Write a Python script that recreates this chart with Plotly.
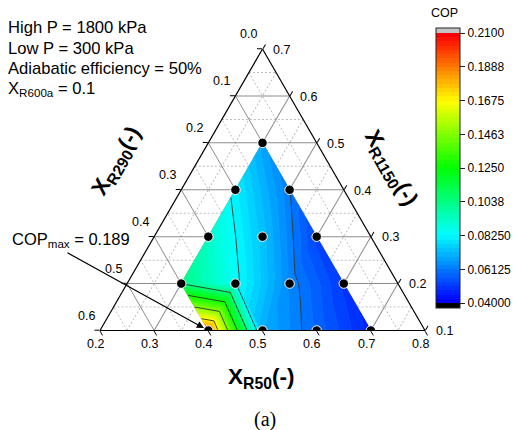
import numpy as np
import plotly.graph_objects as go

# ---------------- data ----------------
X_R50   = [0.3, 0.3, 0.4, 0.3, 0.4, 0.5, 0.3, 0.4, 0.5, 0.6, 0.4, 0.5, 0.6, 0.7]
X_R1150 = [0.5, 0.4, 0.4, 0.3, 0.3, 0.3, 0.2, 0.2, 0.2, 0.2, 0.1, 0.1, 0.1, 0.1]
X_R290  = [0.1, 0.2, 0.1, 0.3, 0.2, 0.1, 0.4, 0.3, 0.2, 0.1, 0.4, 0.3, 0.2, 0.1]
COP     = [0.068, 0.0806, 0.0615, 0.092, 0.0732, 0.0521, 0.1035,
           0.0840, 0.0635, 0.0500, 0.189, 0.0700, 0.0579, 0.0467]
X_R600a = 0.1

info_lines = ["High P = 1800 kPa", "Low P = 300 kPa",
              "Adiabatic efficiency = 50%", "X<sub>R600a</sub> = 0.1"]

# ternary tick labels as printed on each edge
left_edge_labels   = ["0.6", "0.5", "0.4", "0.3", "0.2", "0.1", "0.0"]   # X_R290
bottom_edge_labels = ["0.8", "0.7", "0.6", "0.5", "0.4", "0.3", "0.2"]   # X_R50
right_edge_labels  = ["0.7", "0.6", "0.5", "0.4", "0.3", "0.2", "0.1"]   # X_R1150

cbar_ticks  = [0.04, 0.06125, 0.0825, 0.10375, 0.125, 0.14625, 0.1675, 0.18875, 0.21]
cbar_labels = ["0.04000", "0.06125", "0.08250", "0.1038", "0.1250",
               "0.1463", "0.1675", "0.1888", "0.2100"]
SUB_PER_MAJOR = 8

# ---------------- geometry / style constants ----------------
W, H = 522, 430
TRI_LEFT, TRI_BOTTOM, TRI_W = 100.0, 330.5, 325.0
TRI_H = TRI_W * np.sqrt(3) / 2
FONT = "Liberation Sans"

SUM = round(1 - X_R600a, 10)
AMIN, BMIN, CMIN = 0.1, 0.0, 0.2          # a = R1150, b = R290, c = R50
SPAN = SUM - AMIN - BMIN - CMIN

cx = (TRI_LEFT + TRI_W / 2) / W
cy = 1 - (TRI_BOTTOM - TRI_H / 2) / H
hw = TRI_W / 2 / W
hh = TRI_H / 2 / H
DOMAIN = dict(x=[cx - hw, cx + hw], y=[cy - hh, cy + hh])


def to_px(a, b, c):
    fa = (a - AMIN) / SPAN
    fc = (c - CMIN) / SPAN
    return TRI_LEFT + TRI_W * (fc + 0.5 * fa), TRI_BOTTOM - TRI_H * fa


def rainbow(t):
    stops = [(0, (0, 0, 255)), (0.25, (0, 255, 255)), (0.5, (0, 255, 0)),
             (0.75, (255, 255, 0)), (1.0, (255, 0, 0))]
    for (t0, c0), (t1, c1) in zip(stops[:-1], stops[1:]):
        if t <= t1 + 1e-12:
            f = (t - t0) / (t1 - t0)
            r, g, b = [round(c0[i] + f * (c1[i] - c0[i])) for i in range(3)]
            return f"rgb({r},{g},{b})"
    return "rgb(255,0,0)"


levels = np.linspace(cbar_ticks[0], cbar_ticks[-1], (len(cbar_ticks) - 1) * SUB_PER_MAJOR + 1)
nb = len(levels) - 1
band_colors = [rainbow(k / (nb - 1)) for k in range(nb)]

# ---------------- triangulation on the composition lattice ----------------
pts = {}
for i in range(len(COP)):
    key = (round(X_R50[i] * 10), round(X_R1150[i] * 10))
    pts[key] = (np.array([X_R1150[i], X_R290[i], X_R50[i]]), COP[i])

tris = []
for u in range(0, 11):
    for w in range(0, 11):
        if (u, w) in pts and (u + 1, w) in pts and (u, w + 1) in pts:
            tris.append([(u, w), (u + 1, w), (u, w + 1)])
        if (u + 1, w) in pts and (u, w + 1) in pts and (u + 1, w + 1) in pts:
            tris.append([(u + 1, w), (u, w + 1), (u + 1, w + 1)])


def clip(poly, vals, level, keep_above):
    op, ov = [], []
    n = len(poly)
    for i in range(n):
        p1, v1 = poly[i], vals[i]
        p2, v2 = poly[(i + 1) % n], vals[(i + 1) % n]
        in1 = v1 >= level if keep_above else v1 <= level
        in2 = v2 >= level if keep_above else v2 <= level
        if in1:
            op.append(p1); ov.append(v1)
        if in1 != in2:
            t = (level - v1) / (v2 - v1)
            op.append(p1 + t * (p2 - p1)); ov.append(level)
    return op, ov


fig = go.Figure()

# filled bands
for k in range(nb):
    lo, hi = levels[k], levels[k + 1]
    A, B, C = [], [], []
    for tri in tris:
        poly = [pts[q][0] for q in tri]
        vals = [pts[q][1] for q in tri]
        poly, vals = clip(poly, vals, lo, True)
        if len(poly) < 3:
            continue
        poly, vals = clip(poly, vals, hi, False)
        if len(poly) < 3:
            continue
        for p in poly + [poly[0]]:
            A.append(p[0]); B.append(p[1]); C.append(p[2])
        A.append(None); B.append(None); C.append(None)
    if not A:
        continue
    fig.add_trace(go.Scatterternary(
        a=A, b=B, c=C, mode="lines", fill="toself", fillcolor=band_colors[k],
        line=dict(color=band_colors[k], width=0.8), hoverinfo="skip",
        showlegend=False, subplot="ternary2"))

# contour lines at the major levels
A, B, C = [], [], []
for L in cbar_ticks[1:-1]:
    for tri in tris:
        poly = [pts[q][0] for q in tri]
        vals = [pts[q][1] for q in tri]
        seg = []
        for i in range(3):
            p1, v1 = poly[i], vals[i]
            p2, v2 = poly[(i + 1) % 3], vals[(i + 1) % 3]
            if (v1 - L) * (v2 - L) < 0:
                t = (L - v1) / (v2 - v1)
                seg.append(p1 + t * (p2 - p1))
        if len(seg) == 2:
            for p in seg:
                A.append(p[0]); B.append(p[1]); C.append(p[2])
            A.append(None); B.append(None); C.append(None)
fig.add_trace(go.Scatterternary(
    a=A, b=B, c=C, mode="lines", line=dict(color="#333333", width=0.9),
    hoverinfo="skip", showlegend=False, subplot="ternary2"))

# data points
fig.add_trace(go.Scatterternary(
    a=X_R1150, b=X_R290, c=X_R50, mode="markers",
    marker=dict(color="black", size=9.5, line=dict(color="white", width=1)),
    hoverinfo="skip", showlegend=False, subplot="ternary2"))

# colour bar carrier
d = (cbar_ticks[1] - cbar_ticks[0]) * 5.0 / 33.4
cmin, cmax = cbar_ticks[0] - d, cbar_ticks[-1] + d
pos = lambda v: (v - cmin) / (cmax - cmin)
cs = [[0, "black"], [pos(levels[0]), "black"]]
for k in range(nb):
    cs.append([pos(levels[k]), band_colors[k]])
    cs.append([pos(levels[k + 1]), band_colors[k]])
cs += [[pos(levels[-1]), "rgb(196,196,196)"], [1, "rgb(196,196,196)"]]

fig.add_trace(go.Scatterternary(
    a=X_R1150, b=X_R290, c=X_R50, mode="markers", opacity=0,
    marker=dict(color=COP, colorscale=cs, cmin=cmin, cmax=cmax, size=1, showscale=True,
                colorbar=dict(x=435.7 / W, xanchor="left", y=1 - 168.2 / H, yanchor="middle",
                              len=279.5, lenmode="pixels", thickness=23.5,
                              thicknessmode="pixels", xpad=0, ypad=0,
                              outlinewidth=1, outlinecolor="#222",
                              tickmode="array", tickvals=cbar_ticks, ticktext=cbar_labels,
                              ticks="outside", ticklen=5, tickwidth=1, tickcolor="#222",
                              tickfont=dict(family=FONT, size=12, color="black"))),
    hoverinfo="skip", showlegend=False, subplot="ternary2"))

# invisible carrier for the minor-grid ternary
fig.add_trace(go.Scatterternary(
    a=X_R1150[:1], b=X_R290[:1], c=X_R50[:1], mode="markers", opacity=0,
    hoverinfo="skip", showlegend=False, subplot="ternary"))

major_a = [round(AMIN + 0.1 * i, 2) for i in range(7)]
major_b = [round(BMIN + 0.1 * i, 2) for i in range(7)]
major_c = [round(CMIN + 0.1 * i, 2) for i in range(7)]
minor_a = [round(v + 0.05, 3) for v in major_a[:-1]]
minor_b = [round(v + 0.05, 3) for v in major_b[:-1]]
minor_c = [round(v + 0.05, 3) for v in major_c[:-1]]


def major_axis(mn, vals, labels):
    return dict(min=mn, tickmode="array", tickvals=vals, ticktext=labels,
                showticklabels=False,
                showgrid=True, gridcolor="#8c8c8c", gridwidth=1.2,
                showline=True, linecolor="black", linewidth=1.2,
                ticks="outside", ticklen=5, tickwidth=1, tickcolor="black",
                title=dict(text=""))


def minor_axis(mn, vals):
    return dict(min=mn, tickmode="array", tickvals=vals, showticklabels=False,
                showgrid=True, gridcolor="#bdbdbd", gridwidth=1, griddash="2px,2px",
                showline=False, ticks="", title=dict(text=""))


fig.update_layout(
    width=W, height=H, margin=dict(l=0, r=0, t=0, b=0),
    paper_bgcolor="white", plot_bgcolor="white", hovermode=False,
    ternary=dict(domain=DOMAIN, sum=SUM, bgcolor="white",
                 aaxis=minor_axis(AMIN, minor_a), baxis=minor_axis(BMIN, minor_b),
                 caxis=minor_axis(CMIN, minor_c)),
    ternary2=dict(domain=DOMAIN, sum=SUM, bgcolor="rgba(0,0,0,0)",
                  aaxis=major_axis(AMIN, major_a, left_edge_labels),
                  baxis=major_axis(BMIN, major_b, bottom_edge_labels),
                  caxis=major_axis(CMIN, major_c, right_edge_labels)),
)

ann = []

# edge tick labels, placed like the reference (offset along the grid direction)
tick_font = dict(family=FONT, size=12.5, color="black")
for a_val, lab in zip(major_a, left_edge_labels):
    px, py = to_px(a_val, SUM - a_val - CMIN, CMIN)
    ann.append(dict(text=lab, x=(px - 13.5) / W, y=1 - (py - 14.6) / H, xref="paper",
                    yref="paper", xanchor="center", yanchor="middle", showarrow=False,
                    font=tick_font))
for b_val, lab in zip(major_b, bottom_edge_labels):
    px, py = to_px(AMIN, b_val, SUM - AMIN - b_val)
    ann.append(dict(text=lab, x=(px - 4.8) / W, y=1 - (py + 13.7) / H, xref="paper",
                    yref="paper", xanchor="center", yanchor="middle", showarrow=False,
                    font=tick_font))
for c_val, lab in zip(major_c, right_edge_labels):
    px, py = to_px(SUM - c_val - BMIN, BMIN, c_val)
    ann.append(dict(text=lab, x=(px + 19.2) / W, y=1 - (py + 0.8) / H, xref="paper",
                    yref="paper", xanchor="center", yanchor="middle", showarrow=False,
                    font=tick_font))

for i, txt in enumerate(info_lines):
    ann.append(dict(text=txt, x=6 / W, y=1 - (27.8 + 20.3 * i) / H, xref="paper", yref="paper",
                    xanchor="left", yanchor="middle", showarrow=False,
                    font=dict(family=FONT, size=16.6, color="black")))

ann.append(dict(text="COP", x=444 / W, y=1 - 12.5 / H, xref="paper", yref="paper",
                xanchor="center", yanchor="middle", showarrow=False,
                font=dict(family=FONT, size=12.5, color="black")))

title_font = dict(family=FONT, size=22.5, color="black")
ann.append(dict(text="<b>X<sub>R50</sub>(-)</b>", x=261 / W, y=1 - 378 / H,
                xanchor="center", yanchor="middle",
                xref="paper", yref="paper", showarrow=False, font=title_font))
ann.append(dict(text="<b>X<sub>R290</sub>(-)</b>", x=117 / W, y=1 - 162 / H, textangle=-60,
                xanchor="center", yanchor="middle",
                xref="paper", yref="paper", showarrow=False, font=title_font))
ann.append(dict(text="<b>X<sub>R1150</sub>(-)</b>", x=390 / W, y=1 - 168 / H, textangle=60,
                xanchor="center", yanchor="middle",
                xref="paper", yref="paper", showarrow=False, font=title_font))

# COP max label and arrow to the maximum point
imax = int(np.argmax(COP))
hx, hy = to_px(X_R1150[imax], X_R290[imax], X_R50[imax])
ann.append(dict(text=f"COP<sub>max</sub> = {COP[imax]:.3f}", x=10 / W, y=1 - 240 / H,
                xref="paper", yref="paper", xanchor="left", yanchor="middle",
                showarrow=False, font=dict(family=FONT, size=16.5, color="black")))
ann.append(dict(text="", x=hx / W, y=1 - hy / H, xref="paper", yref="paper",
                showarrow=True, ax=66 - hx, ay=252 - hy, axref="pixel", ayref="pixel",
                arrowhead=2, arrowsize=1.2, arrowwidth=1.2, arrowcolor="black", standoff=5))

ann.append(dict(text="(a)", x=264.5 / W, y=1 - 419.5 / H, xref="paper", yref="paper",
                xanchor="center", yanchor="middle",
                showarrow=False, font=dict(family="Liberation Serif", size=20, color="black")))

fig.update_layout(annotations=ann)
fig.write_html("out.html", config={"displayModeBar": False},
               post_script="document.body.style.margin='0px';")
